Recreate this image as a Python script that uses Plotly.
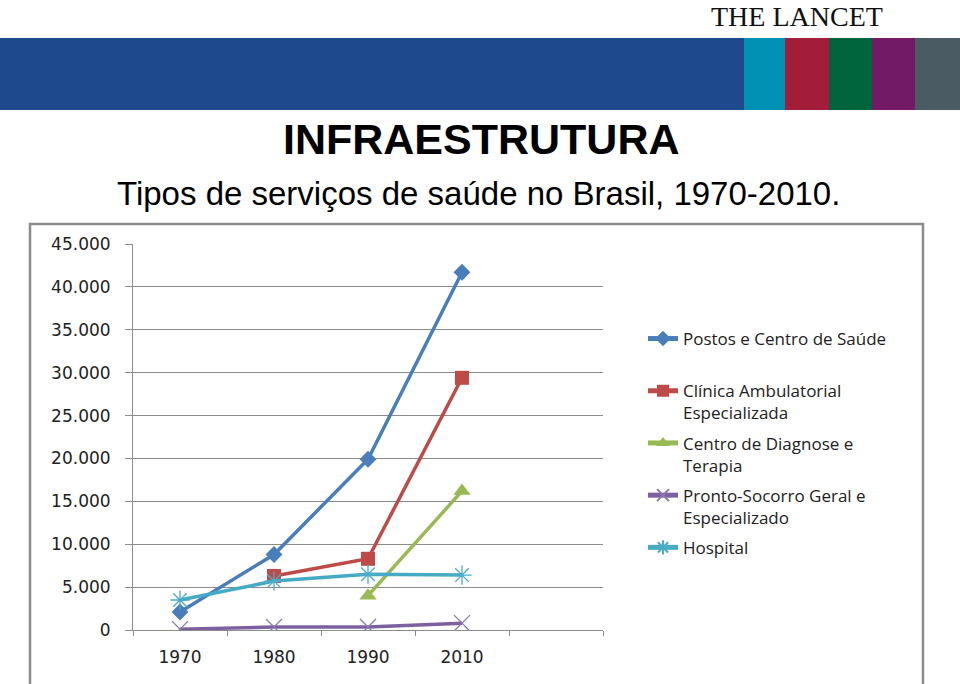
import plotly.graph_objects as go

YEARS = ["1970", "1980", "1990", "2010"]
CATEGORY_SLOTS = YEARS + [" "]

postos = [2100, 8800, 19900, 41700]
clinica = [None, 6300, 8300, 29400]
diagnose = [None, None, 4000, 16200]
pronto = [100, 350, 350, 800]
hospital = [3500, 5700, 6500, 6400]

NAMES = [
    "Postos e Centro de Saúde<br>\u00a0",
    "Clínica Ambulatorial<br>Especializada",
    "Centro de Diagnose e<br>Terapia",
    "Pronto-Socorro Geral e<br>Especializado",
    "Hospital",
]
SERIES = [postos, clinica, diagnose, pronto, hospital]
LINE_COLORS = ["#4A7EBB", "#BE4B48", "#98B954", "#7D60A0", "#46AAC5"]
MARKER_COLORS = ["#4A7EBB", "#BE4B48", "#98B954", "#8C78B0", "#4BACC6"]
SYMBOLS = ["diamond", "square", "triangle-up", "x-thin", "asterisk"]
SIZES = [13, 14, 15, 16, 16]

W, H = 960, 684


def px(x):
    return x / W


def py(y):
    return 1 - y / H


fig = go.Figure()
for i, (name, vals) in enumerate(zip(NAMES, SERIES)):
    open_sym = SYMBOLS[i] in ("x-thin", "asterisk")
    fig.add_trace(go.Scatter(
        x=YEARS, y=vals, name=name, mode="lines+markers",
        legendgroup=f"g{i}",
        line=dict(color=LINE_COLORS[i], width=3.5),
        marker=dict(
            symbol=SYMBOLS[i], size=SIZES[i],
            color=MARKER_COLORS[i],
            line=dict(color=MARKER_COLORS[i], width=1.3 if open_sym else 0),
        ),
        connectgaps=False,
    ))

shapes = []
banner = [(0, 744, "#1E4A8D"), (744, 785, "#0091B4"), (785, 829, "#A31C3A"),
          (829, 872, "#00643C"), (872, 915, "#731A66"), (915, 960, "#4B5B64")]
for x0, x1, c in banner:
    shapes.append(dict(type="rect", xref="paper", yref="paper",
                       x0=px(x0), x1=px(x1), y0=py(110), y1=py(38),
                       fillcolor=c, line=dict(width=0), layer="below"))
shapes.append(dict(type="rect", xref="paper", yref="paper",
                   x0=px(30), x1=px(923), y0=py(700), y1=py(224),
                   line=dict(color="#8C8C8C", width=2.5), fillcolor="rgba(0,0,0,0)",
                   layer="below"))

annotations = [
    dict(text="THE LANCET", x=px(797), y=1, xref="paper", yref="paper",
         showarrow=False, xanchor="center", yanchor="top", borderpad=0,
         font=dict(family="Liberation Serif", size=28, color="#111111")),
    dict(text="<b>INFRAESTRUTURA</b>", x=px(481), y=py(139), xref="paper", yref="paper",
         showarrow=False, xanchor="center", yanchor="middle",
         font=dict(family="Liberation Sans", size=43, color="#000000")),
    dict(text="Tipos de serviços de saúde no Brasil, 1970-2010.", x=px(478), y=py(193),
         xref="paper", yref="paper", showarrow=False, xanchor="center", yanchor="middle",
         font=dict(family="Liberation Sans", size=33, color="#000000")),
]

fig.update_layout(
    template="none",
    width=W, height=H, autosize=False,
    margin=dict(l=0, r=0, t=0, b=0, pad=0, autoexpand=False),
    paper_bgcolor="white", plot_bgcolor="white",
    separators=",.",
    shapes=shapes,
    annotations=annotations,
    xaxis=dict(
        type="category", categoryorder="array", categoryarray=CATEGORY_SLOTS,
        range=[-0.5, 4.5], domain=[px(133), px(603)], automargin=False,
        showgrid=False, showline=True, linecolor="#8C8C8C", linewidth=1,
        ticks="outside", tickson="boundaries", ticklen=5, tickcolor="#8C8C8C",
        tickfont=dict(family="DejaVu Sans", size=17, color="#222222"),
        ticklabelstandoff=12,
        zeroline=False,
    ),
    yaxis=dict(
        range=[0, 45000], dtick=5000, tickformat=",d",
        domain=[py(630), py(244)], automargin=False,
        showgrid=True, gridcolor="#8C8C8C", gridwidth=1,
        showline=True, linecolor="#8C8C8C", linewidth=1,
        ticks="outside", ticklen=7, tickcolor="#8C8C8C",
        tickfont=dict(family="DejaVu Sans", size=17, color="#222222"),
        ticklabelstandoff=11,
        zeroline=False,
    ),
    legend=dict(
        x=px(643), y=py(321), xanchor="left", yanchor="top",
        font=dict(family="Open Sans", size=17, color="#222222"),
        valign="top", traceorder="grouped", tracegroupgap=5,
        itemsizing="constant",
        bgcolor="rgba(0,0,0,0)", borderwidth=0,
    ),
    showlegend=True,
)

fig.write_html(
    "out.html",
    config={"displayModeBar": False},
    post_script="document.body.style.margin='0';document.body.style.padding='0';",
)
